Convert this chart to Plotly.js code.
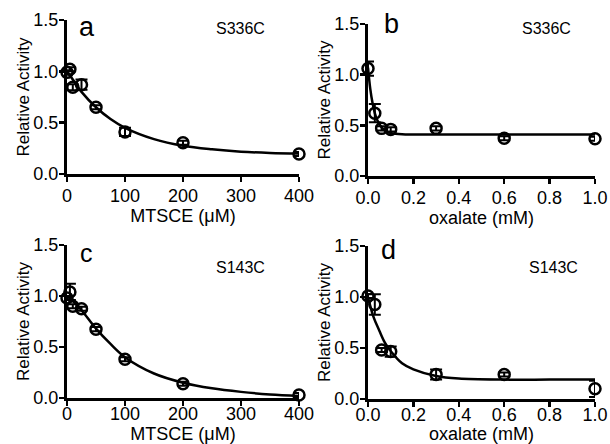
<!DOCTYPE html>
<html>
<head>
<meta charset="utf-8">
<script src="https://cdn.plot.ly/plotly-3.0.1.min.js"></script>
<style>html,body{margin:0;padding:0;background:#fff;}#chart{width:610px;height:444px;}</style>
</head>
<body>
<div id="chart"></div>
<script>
// ---- Data ----
// Panel a: MTSCE, S336C
const aX = [0, 5, 10, 25, 50, 100, 200, 400];
const aY = [0.99, 1.02, 0.845, 0.87, 0.65, 0.41, 0.305, 0.195];
const aErr = [0.02, 0.02, 0.03, 0.05, 0.02, 0.04, 0.02, 0.02];
const aFitX = [0, 10, 25, 50, 75, 100, 150, 200, 250, 300, 350, 400];
const aFitY = [1.0, 0.92, 0.80, 0.65, 0.535, 0.45, 0.34, 0.275, 0.24, 0.217, 0.205, 0.199];

// Panel b: oxalate, S336C
const bX = [0, 0.03, 0.06, 0.1, 0.3, 0.6, 1.0];
const bY = [1.06, 0.62, 0.47, 0.46, 0.47, 0.373, 0.367];
const bErr = [0.07, 0.09, 0.02, 0.02, 0.02, 0.02, 0.02];
const bFitX = [0, 0.01, 0.02, 0.03, 0.04, 0.06, 0.08, 0.1, 0.15, 0.2, 0.4, 0.7, 1.0];
const bFitY = [1.07, 0.86, 0.72, 0.62, 0.555, 0.48, 0.44, 0.425, 0.412, 0.41, 0.41, 0.41, 0.41];

// Panel c: MTSCE, S143C
const cX = [0, 5, 10, 25, 50, 100, 200, 400];
const cY = [0.98, 1.04, 0.90, 0.875, 0.675, 0.38, 0.14, 0.03];
const cErr = [0.02, 0.08, 0.02, 0.02, 0.02, 0.02, 0.02, 0.02];
const cFitX = [0, 10, 25, 50, 75, 100, 150, 200, 250, 300, 350, 400];
const cFitY = [1.0, 0.95, 0.86, 0.68, 0.53, 0.40, 0.24, 0.15, 0.095, 0.06, 0.035, 0.02];

// Panel d: oxalate, S143C
const dX = [0, 0.03, 0.06, 0.1, 0.3, 0.6, 1.0];
const dY = [1.01, 0.926, 0.48, 0.465, 0.24, 0.24, 0.10];
const dErr = [0.02, 0.1, 0.02, 0.05, 0.05, 0.02, 0.08];
const dFitX = [0, 0.025, 0.05, 0.075, 0.1, 0.15, 0.2, 0.3, 0.4, 0.6, 0.8, 1.0];
const dFitY = [1.0, 0.80, 0.67, 0.55, 0.47, 0.35, 0.29, 0.225, 0.20, 0.19, 0.19, 0.19];

const panelLetters = ['a', 'b', 'c', 'd'];
const mutantLabels = ['S336C', 'S336C', 'S143C', 'S143C'];
const xTitles = ['MTSCE (μM)', 'oxalate (mM)', 'MTSCE (μM)', 'oxalate (mM)'];
const yTitle = 'Relative Activity';
const mtsceTicks = [0, 100, 200, 300, 400];
const oxTicks = [0, 0.2, 0.4, 0.6, 0.8, 1.0];
const yTicks = [0, 0.5, 1.0, 1.5];

// ---- Build traces ----
const FONT = 'Liberation Sans, Arial, Helvetica, sans-serif';
const panels = [
  {x: aX, y: aY, e: aErr, fx: aFitX, fy: aFitY},
  {x: bX, y: bY, e: bErr, fx: bFitX, fy: bFitY},
  {x: cX, y: cY, e: cErr, fx: cFitX, fy: cFitY},
  {x: dX, y: dY, e: dErr, fx: dFitX, fy: dFitY}
];
const traces = [];
panels.forEach((p, i) => {
  const xa = i === 0 ? 'x' : 'x' + (i + 1);
  const ya = i === 0 ? 'y' : 'y' + (i + 1);
  traces.push({
    x: p.fx, y: p.fy, xaxis: xa, yaxis: ya, type: 'scatter', mode: 'lines',
    line: {color: '#000', width: 2.5, shape: 'spline', smoothing: 1},
    cliponaxis: false, showlegend: false, hoverinfo: 'skip'
  });
  traces.push({
    x: p.x, y: p.y, xaxis: xa, yaxis: ya, type: 'scatter', mode: 'markers',
    marker: {symbol: 'circle-open', size: 11, color: '#000', line: {width: 2.5, color: '#000'}},
    error_y: {type: 'data', array: p.e, visible: true, color: '#000', thickness: 2, width: 6},
    cliponaxis: false, showlegend: false
  });
});

// ---- Layout ----
const W = 610, H = 444;
// pixel boxes [left, right, top, bottom]
const boxes = [
  [67, 299, 20, 174],
  [368, 595, 24, 176],
  [67, 299, 245, 398],
  [368, 595, 246, 399]
];
const layout = {
  width: W, height: H,
  margin: {l: 0, r: 0, t: 0, b: 0},
  paper_bgcolor: '#fff', plot_bgcolor: 'rgba(0,0,0,0)',
  font: {family: FONT, color: '#000', size: 17},
  showlegend: false,
  annotations: []
};
boxes.forEach((b, i) => {
  const sx = i === 0 ? '' : String(i + 1);
  const isMT = (i % 2 === 0);
  const isBottom = i >= 2;
  layout['xaxis' + sx] = {
    domain: [b[0] / W, b[1] / W],
    anchor: 'y' + sx,
    range: isMT ? [0, 400] : [0, 1.0],
    tickvals: isMT ? mtsceTicks : oxTicks,
    ticktext: (isMT ? mtsceTicks : oxTicks).map(v => isMT ? String(v) : v.toFixed(1)),
    showline: true, linewidth: 3, linecolor: '#000',
    ticks: 'outside', ticklen: 5, tickwidth: 2.5, tickcolor: '#000',
    ticklabelstandoff: isBottom ? -8 : -2,
    showgrid: false, zeroline: false,
    tickfont: {family: FONT, size: 18, color: '#000'},
    title: {text: xTitles[i], font: {family: FONT, size: 18, color: '#000'}, standoff: isBottom ? 11 : 4}
  };
  layout['yaxis' + sx] = {
    domain: [1 - b[3] / H, 1 - b[2] / H],
    anchor: 'x' + sx,
    range: [0, 1.5],
    tickvals: yTicks,
    ticktext: yTicks.map(v => v.toFixed(1)),
    showline: true, linewidth: 3, linecolor: '#000',
    ticks: 'outside', ticklen: 5, tickwidth: 2.5, tickcolor: '#000',
    ticklabelstandoff: -3,
    showgrid: false, zeroline: false,
    tickfont: {family: FONT, size: 18, color: '#000'},
    title: {text: yTitle, font: {family: FONT, size: 17, color: '#000'}, standoff: 0}
  };
});
const letterPos = [[87, 27], [391, 24], [86, 253], [389, 250]];
const mutPos = [[241, 28], [546, 28], [241, 267], [553, 267]];
letterPos.forEach((p, i) => {
  layout.annotations.push({
    text: panelLetters[i], xref: 'paper', yref: 'paper',
    x: p[0] / W, y: 1 - p[1] / H, xanchor: 'center', yanchor: 'middle',
    showarrow: false, font: {family: FONT, size: i === 2 ? 25 : 27, color: '#000'}
  });
});
mutPos.forEach((p, i) => {
  layout.annotations.push({
    text: mutantLabels[i], xref: 'paper', yref: 'paper',
    x: p[0] / W, y: 1 - p[1] / H, xanchor: 'center', yanchor: 'middle',
    showarrow: false, font: {family: FONT, size: 16, color: '#000'}
  });
});

Plotly.newPlot('chart', traces, layout, {displayModeBar: false, staticPlot: true});
</script>
</body>
</html>
